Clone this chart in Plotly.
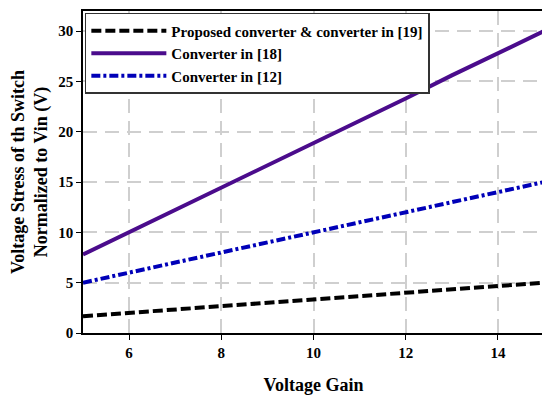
import plotly.graph_objects as go

gain = [5, 6, 7, 8, 9, 10, 11, 12, 13, 14, 15]
proposed = [1.67, 2.0, 2.33, 2.67, 3.0, 3.33, 3.67, 4.0, 4.33, 4.67, 5.0]
conv18 = [7.8, 10.0, 12.3, 14.5, 16.7, 18.9, 21.1, 23.3, 25.6, 27.8, 30.0]
conv12 = [5, 6, 7, 8, 9, 10, 11, 12, 13, 14, 15]

names = ["Proposed converter & converter in [19]", "Converter in [18]", "Converter in [12]"]
x_ticks = [6, 8, 10, 12, 14]
y_ticks = [0, 5, 10, 15, 20, 25, 30]

font_family = "Liberation Serif"

fig = go.Figure()
fig.add_trace(go.Scatter(x=gain, y=proposed, mode="lines", name=names[0],
                         line=dict(color="black", width=4, dash="10px,4px")))
fig.add_trace(go.Scatter(x=gain, y=conv18, mode="lines", name=names[1],
                         line=dict(color="#4B0C8C", width=4)))
fig.add_trace(go.Scatter(x=gain, y=conv12, mode="lines", name=names[2],
                         line=dict(color="#0000B8", width=4, dash="9px,3px,3px,3px")))

axis_common = dict(
    showline=True, linecolor="black", linewidth=1.5, mirror=True,
    ticks="outside", ticklen=5, tickcolor="black", tickwidth=1,
    showgrid=True, gridcolor="#CFCFCF", gridwidth=1.5, griddash="14px,8px",
    zeroline=False, automargin=False,
    tickfont=dict(family=font_family, size=15, color="black", weight="bold"),
)

# page body has an 8px default margin, so the figure is sized 8px smaller
fig.update_layout(
    width=542, height=390,
    margin=dict(l=75, r=6, t=3, b=65),
    paper_bgcolor="white", plot_bgcolor="white",
    font=dict(family=font_family, color="black"),
    showlegend=True,
    legend=dict(
        x=0.004, y=0.994, xanchor="left", yanchor="top",
        bgcolor="white", bordercolor="#333333", borderwidth=1.5,
        font=dict(family=font_family, size=15, color="black", weight="bold"),
        itemwidth=75, tracegroupgap=0,
    ),
    xaxis=dict(range=[5, 15], tickvals=x_ticks,
               title=dict(text="Voltage Gain", standoff=19,
                          font=dict(family=font_family, size=18, color="black", weight="bold")),
               **axis_common),
    yaxis=dict(range=[0, 32], tickvals=y_ticks,
               title=dict(text="Voltage Stress of th Switch<br>Normalized to Vin (V)", standoff=10,
                          font=dict(family=font_family, size=18, color="black", weight="bold")),
               **axis_common),
)

fig.write_html("out.html")
